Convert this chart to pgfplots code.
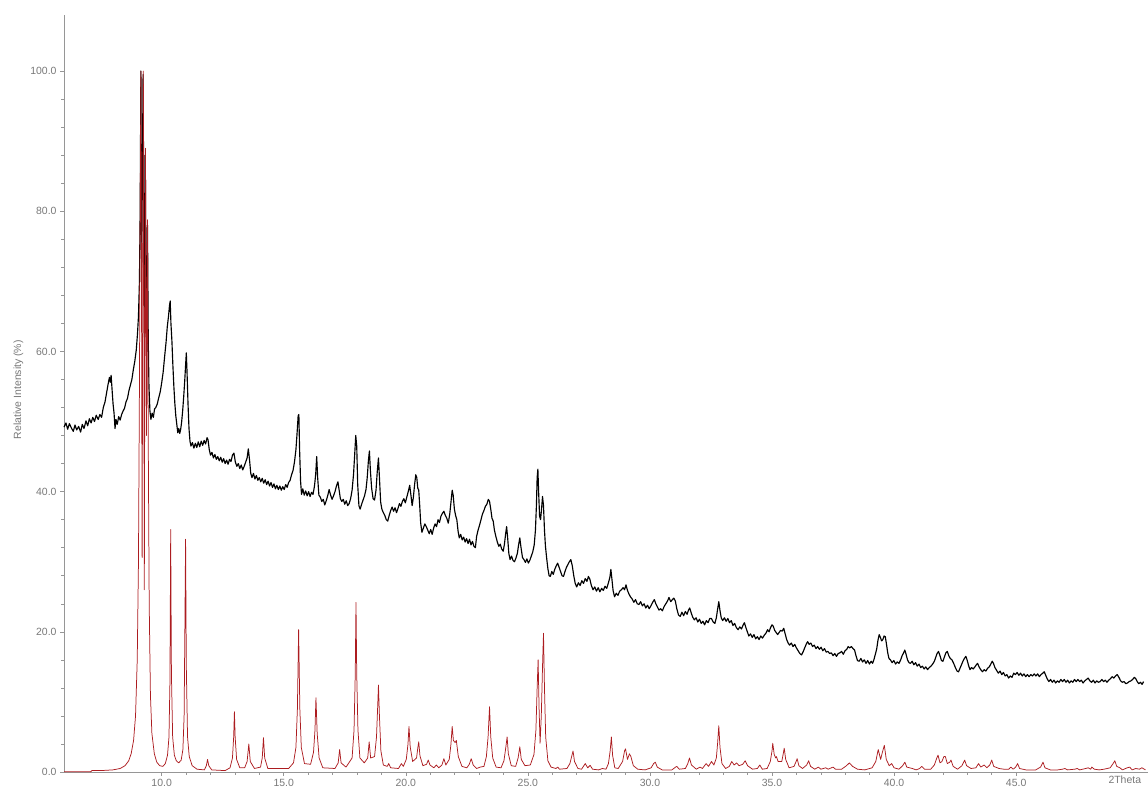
\documentclass[border=0pt]{standalone}
\usepackage{fontspec}
\setmainfont{Liberation Sans}
\usepackage{pgfplots}
\pgfplotsset{compat=1.18}
\definecolor{tickgray}{RGB}{120,120,120}
\definecolor{axgray}{RGB}{150,150,150}
\definecolor{calcred}{RGB}{172,28,32}
\begin{document}
\begin{tikzpicture}
\path[use as bounding box] (0,0) rectangle (1148bp,791bp);
\begin{axis}[
  at={(64bp,19bp)}, anchor=south west,
  width=1084bp, height=757bp, scale only axis,
  xmin=6, xmax=50.4, ymin=0, ymax=108,
  axis lines*=left,
  axis line style={axgray, line width=0.6pt},
  tick style={axgray, line width=0.5pt},
  tick align=outside,
  major tick length=4bp, minor tick length=3bp,
  xtick={10,15,...,45}, minor x tick num=4,
  ytick={0,20,...,100}, minor y tick num=4,
  extra x ticks={49.45}, extra x tick labels={2Theta},
  extra x tick style={major tick length=0pt},
  /pgf/number format/assume math mode=true,
  /pgf/number format/.cd, fixed, fixed zerofill, precision=1, /pgfplots/.cd,
  tick label style={font=\fontsize{10.5}{12}\selectfont, text=tickgray},
  ylabel={Relative Intensity (\%)},
  ylabel style={at={(axis description cs:-0.042,0.505)}, anchor=center, font=\fontsize{10.5}{12}\selectfont, text=tickgray},
  clip=false,
]
\addplot[black, line width=1.15pt, line join=round] table {
6.00 49.2
6.08 49.8
6.15 48.9
6.22 49.7
6.30 49.1
6.38 48.6
6.45 49.5
6.52 48.8
6.60 49.3
6.68 48.5
6.75 49.6
6.82 49.0
6.90 50.1
6.97 49.4
7.04 50.4
7.11 49.8
7.18 50.6
7.25 50.0
7.32 50.9
7.40 50.3
7.47 51.0
7.54 50.6
7.61 52.0
7.68 52.8
7.74 54.0
7.80 55.2
7.86 56.3
7.90 55.6
7.93 56.6
7.97 54.5
8.01 52.5
8.05 51.2
8.09 49.0
8.13 50.3
8.18 49.6
8.24 50.7
8.30 50.2
8.36 51.0
8.42 51.5
8.48 51.9
8.54 52.8
8.60 53.3
8.66 54.4
8.72 55.2
8.78 56.0
8.84 57.4
8.90 58.6
8.96 60.2
9.01 62.5
9.05 65.0
9.09 70.0
9.12 80.0
9.15 100.0
9.18 72.0
9.21 85.0
9.24 99.5
9.27 78.0
9.30 62.0
9.33 88.0
9.36 68.0
9.39 60.0
9.42 78.0
9.45 62.0
9.48 55.0
9.52 51.5
9.56 50.3
9.61 51.2
9.66 50.6
9.71 51.8
9.76 52.0
9.82 52.5
9.88 53.4
9.94 54.2
10.00 55.5
10.06 57.0
10.12 59.2
10.18 61.3
10.23 63.5
10.28 65.0
10.32 66.5
10.35 67.2
10.38 64.0
10.42 61.5
10.46 58.0
10.50 55.0
10.54 52.6
10.58 50.8
10.62 49.6
10.66 48.4
10.70 49.0
10.74 48.3
10.78 48.9
10.82 50.0
10.86 51.5
10.90 53.4
10.94 55.5
10.98 58.0
11.01 59.8
11.04 57.0
11.08 52.5
11.12 49.0
11.16 47.2
11.20 46.5
11.26 47.0
11.32 46.2
11.38 46.9
11.44 46.3
11.50 47.1
11.56 46.4
11.62 47.2
11.68 46.6
11.74 47.3
11.80 46.8
11.86 47.7
11.90 47.4
11.95 46.0
12.00 45.2
12.06 45.6
12.12 44.8
12.18 45.3
12.24 44.6
12.30 45.0
12.36 44.4
12.42 44.9
12.48 44.2
12.54 44.7
12.60 44.0
12.66 44.5
12.72 43.9
12.78 44.6
12.84 44.3
12.90 45.2
12.96 45.5
13.02 44.2
13.08 43.6
13.14 44.0
13.20 43.3
13.26 43.8
13.32 43.1
13.38 43.6
13.44 44.2
13.50 44.8
13.55 46.1
13.60 44.5
13.65 42.6
13.70 42.0
13.76 42.6
13.82 41.8
13.88 42.3
13.94 41.6
14.00 42.0
14.06 41.4
14.12 41.9
14.18 41.2
14.24 41.7
14.30 41.0
14.36 41.5
14.42 40.8
14.48 41.3
14.54 40.6
14.60 41.1
14.66 40.4
14.72 40.9
14.78 40.3
14.84 40.8
14.90 40.2
14.96 40.7
15.02 40.3
15.08 41.0
15.14 40.6
15.20 41.3
15.26 41.6
15.32 42.4
15.38 43.0
15.44 44.2
15.50 46.0
15.55 48.5
15.59 50.8
15.62 51.0
15.65 46.0
15.69 41.5
15.73 39.6
15.78 40.4
15.84 39.5
15.90 40.1
15.96 39.4
16.02 40.0
16.08 39.3
16.14 39.9
16.20 39.6
16.26 40.8
16.31 42.5
16.35 45.0
16.39 42.0
16.44 39.5
16.50 39.2
16.56 38.6
16.62 38.9
16.68 38.1
16.74 38.7
16.80 39.4
16.86 40.3
16.92 39.5
16.98 38.9
17.04 39.4
17.10 40.0
17.16 40.8
17.22 41.4
17.27 40.2
17.32 39.0
17.38 38.6
17.44 38.9
17.50 38.2
17.56 38.7
17.62 38.0
17.68 38.3
17.74 39.0
17.80 40.2
17.86 42.5
17.91 45.5
17.95 48.0
17.99 46.5
18.03 41.0
18.08 38.0
18.13 37.5
18.19 38.2
18.25 38.8
18.31 39.4
18.37 40.3
18.42 42.0
18.47 44.5
18.51 45.8
18.55 43.0
18.60 40.5
18.66 39.0
18.72 38.8
18.78 40.2
18.83 42.8
18.88 44.8
18.92 42.0
18.97 38.5
19.02 37.5
19.08 37.0
19.14 36.6
19.20 36.0
19.26 35.8
19.32 36.6
19.38 37.3
19.44 37.8
19.50 37.2
19.56 37.7
19.62 37.0
19.68 37.6
19.74 38.3
19.80 37.9
19.86 38.6
19.92 39.0
19.98 38.4
20.04 39.2
20.10 40.0
20.16 40.9
20.21 39.5
20.26 38.0
20.31 39.2
20.36 41.0
20.41 42.4
20.45 42.0
20.49 40.5
20.53 40.2
20.57 38.0
20.61 35.5
20.66 34.2
20.72 34.8
20.78 35.4
20.84 35.0
20.90 34.5
20.96 34.0
21.02 34.6
21.08 33.9
21.14 34.8
21.20 35.4
21.26 35.0
21.32 36.0
21.38 35.6
21.44 36.5
21.50 36.9
21.56 37.2
21.62 36.6
21.68 36.2
21.74 35.5
21.80 36.8
21.85 38.5
21.90 40.2
21.94 39.5
21.99 37.5
22.04 36.6
22.09 36.0
22.14 34.4
22.19 33.4
22.25 33.9
22.31 33.1
22.37 33.5
22.43 32.8
22.49 33.3
22.55 32.6
22.61 33.2
22.67 32.4
22.73 32.9
22.79 32.2
22.85 32.0
22.90 33.6
22.96 34.5
23.02 35.2
23.08 36.0
23.14 36.8
23.20 37.3
23.26 37.9
23.32 38.2
23.38 38.9
23.43 38.6
23.48 37.5
23.53 36.2
23.58 35.8
23.63 34.5
23.69 33.6
23.75 32.8
23.81 32.2
23.87 32.5
23.93 31.8
23.99 31.5
24.04 32.5
24.09 34.0
24.13 35.0
24.17 33.5
24.22 31.2
24.27 30.3
24.33 30.8
24.39 30.2
24.45 30.0
24.51 30.5
24.57 31.2
24.62 32.4
24.67 33.4
24.72 32.0
24.78 30.6
24.84 30.3
24.90 29.9
24.96 30.4
25.02 29.8
25.08 30.2
25.14 30.8
25.20 31.4
25.26 32.4
25.31 34.5
25.35 38.0
25.38 42.0
25.41 43.2
25.44 40.0
25.48 36.5
25.52 36.0
25.56 37.5
25.60 39.3
25.64 38.0
25.68 34.5
25.72 32.2
25.77 30.5
25.82 29.0
25.87 28.0
25.92 27.9
25.98 28.6
26.04 28.2
26.10 28.9
26.16 29.4
26.22 29.8
26.28 29.2
26.34 28.6
26.40 28.0
26.46 27.9
26.52 28.6
26.58 29.2
26.64 29.6
26.70 30.0
26.76 30.3
26.82 29.4
26.88 28.0
26.94 26.9
27.00 26.4
27.07 27.0
27.14 26.6
27.21 27.3
27.28 26.9
27.35 27.6
27.42 27.2
27.48 27.9
27.54 27.5
27.60 26.6
27.67 26.0
27.74 26.4
27.81 25.8
27.88 26.3
27.95 25.7
28.02 26.2
28.09 25.9
28.16 26.5
28.23 26.2
28.30 27.0
28.36 27.8
28.40 28.9
28.44 27.6
28.49 25.9
28.55 25.0
28.62 25.5
28.69 25.2
28.76 25.8
28.83 26.0
28.90 26.3
28.96 26.0
29.02 26.7
29.08 25.9
29.14 25.4
29.20 25.0
29.27 24.7
29.34 24.2
29.41 24.6
29.48 24.0
29.55 23.9
29.62 24.3
29.69 23.7
29.76 24.0
29.83 23.4
29.90 23.8
29.97 23.3
30.04 23.7
30.11 24.2
30.18 24.6
30.24 24.0
30.30 23.6
30.37 23.1
30.44 23.3
30.51 23.0
30.58 23.6
30.65 24.0
30.72 24.4
30.78 24.9
30.85 24.3
30.92 24.6
30.98 24.8
31.04 24.4
31.10 23.3
31.17 22.4
31.24 22.2
31.31 22.8
31.38 22.3
31.45 22.9
31.52 22.5
31.58 23.1
31.63 23.4
31.69 22.7
31.75 22.1
31.82 21.7
31.89 22.0
31.96 21.4
32.03 21.8
32.10 21.2
32.17 21.5
32.24 21.0
32.31 21.6
32.38 21.3
32.45 21.9
32.52 21.9
32.59 21.4
32.66 21.2
32.72 22.0
32.77 23.2
32.82 24.3
32.87 23.0
32.92 22.0
32.98 21.6
33.05 22.0
33.12 21.5
33.19 21.9
33.26 21.3
33.33 21.6
33.40 20.9
33.47 21.2
33.54 20.6
33.61 20.3
33.68 20.7
33.75 20.4
33.82 21.0
33.87 21.3
33.93 20.6
33.99 20.0
34.05 19.4
34.12 19.7
34.19 19.2
34.26 19.6
34.33 19.0
34.40 19.3
34.47 18.9
34.54 19.4
34.61 19.1
34.68 19.5
34.75 19.8
34.82 20.3
34.88 20.0
34.94 20.6
35.00 21.0
35.05 20.8
35.11 20.2
35.17 19.9
35.23 19.6
35.29 19.9
35.35 20.2
35.42 20.1
35.48 20.5
35.54 19.7
35.60 18.9
35.66 18.4
35.72 18.1
35.79 18.4
35.86 17.9
35.93 18.2
36.00 17.7
36.07 17.3
36.14 16.9
36.21 16.7
36.28 17.2
36.35 17.8
36.41 18.3
36.46 18.6
36.52 18.2
36.59 18.4
36.66 17.9
36.73 18.1
36.80 17.6
36.87 17.9
36.94 17.5
37.01 17.8
37.08 17.3
37.15 17.6
37.22 17.1
37.29 17.2
37.36 16.9
37.43 17.0
37.50 16.6
37.57 16.9
37.64 16.5
37.71 16.9
37.78 17.0
37.85 17.2
37.92 16.8
37.99 17.3
38.06 17.5
38.12 17.9
38.18 17.7
38.25 17.9
38.32 17.6
38.38 17.4
38.44 16.6
38.50 15.9
38.57 15.8
38.64 16.2
38.71 15.7
38.78 16.0
38.85 15.5
38.92 15.9
38.99 15.4
39.06 15.8
39.12 15.5
39.18 16.1
39.24 16.9
39.29 17.6
39.34 18.8
39.39 19.6
39.44 19.2
39.49 18.7
39.54 18.9
39.59 19.4
39.64 19.3
39.69 18.2
39.74 17.0
39.79 16.2
39.85 16.0
39.92 15.6
39.99 15.9
40.06 15.4
40.13 15.7
40.20 15.5
40.27 16.0
40.33 16.6
40.39 17.0
40.44 17.4
40.49 16.8
40.55 16.0
40.61 15.6
40.67 15.5
40.74 15.8
40.81 15.3
40.88 15.6
40.95 15.1
41.02 15.4
41.09 14.9
41.16 15.1
41.23 14.7
41.30 15.0
41.37 14.6
41.44 14.9
41.51 15.1
41.58 15.4
41.65 15.8
41.71 16.4
41.76 16.9
41.82 17.2
41.88 16.6
41.94 15.9
42.00 15.8
42.06 16.4
42.12 17.0
42.18 17.2
42.24 16.6
42.30 16.2
42.37 16.0
42.44 15.5
42.51 14.9
42.58 14.4
42.64 14.3
42.70 14.8
42.76 15.3
42.82 15.8
42.88 16.2
42.94 16.5
42.99 16.0
43.05 15.2
43.11 14.6
43.17 14.9
43.24 14.7
43.31 15.0
43.37 15.3
43.42 15.5
43.48 15.0
43.55 14.6
43.62 14.3
43.69 14.6
43.76 14.4
43.83 14.8
43.90 15.0
43.96 15.4
44.02 15.8
44.07 15.5
44.13 14.9
44.20 14.5
44.27 14.1
44.34 14.4
44.41 13.9
44.48 14.2
44.55 13.7
44.62 13.9
44.69 13.4
44.76 13.7
44.83 13.5
44.90 14.1
44.97 13.9
45.04 14.2
45.11 13.8
45.18 14.1
45.25 13.7
45.32 14.0
45.39 13.6
45.46 13.9
45.53 13.6
45.60 13.9
45.67 13.7
45.74 14.0
45.81 13.7
45.88 14.0
45.95 13.6
46.02 13.9
46.09 14.1
46.15 14.3
46.21 13.8
46.27 13.3
46.34 12.9
46.41 13.2
46.48 12.8
46.55 13.1
46.62 12.7
46.69 13.0
46.76 12.8
46.83 13.2
46.90 12.9
46.97 13.2
47.04 12.8
47.11 13.1
47.18 12.7
47.25 13.0
47.32 12.8
47.39 13.2
47.46 12.9
47.53 13.2
47.60 12.9
47.67 13.1
47.74 12.7
47.81 13.0
47.88 13.2
47.95 13.4
48.02 13.0
48.09 12.8
48.16 13.1
48.23 12.7
48.30 13.0
48.37 12.8
48.44 12.9
48.51 13.2
48.58 12.9
48.65 13.1
48.72 12.8
48.79 13.1
48.86 13.3
48.93 13.6
49.00 13.4
49.07 13.7
49.14 13.9
49.21 13.5
49.28 13.0
49.35 12.8
49.42 12.9
49.49 12.6
49.56 12.7
49.63 12.9
49.70 13.0
49.77 13.2
49.84 13.5
49.90 13.3
49.96 12.9
50.02 12.6
50.09 12.8
50.16 12.5
50.22 12.9
};
\addplot[calcred, line width=0.75pt, line join=round] table {
6.00 0.05
7.10 0.05
7.14 0.2
7.60 0.22
8.00 0.3
8.30 0.5
8.50 0.9
8.65 1.6
8.75 2.6
8.85 4.5
8.93 8.0
9.00 16
9.05 30
9.09 55
9.12 80
9.15 100
9.18 62
9.20 30.6
9.22 62
9.25 100
9.27 70
9.29 26
9.31 60
9.34 89
9.36 62
9.38 48
9.40 66
9.42 78.8
9.45 48
9.49 24
9.54 11
9.60 5.5
9.70 2.6
9.80 1.4
9.92 0.9
10.05 0.8
10.15 1.2
10.24 2.4
10.30 5.0
10.34 13
10.37 34.6
10.40 14
10.45 5.0
10.52 2.4
10.60 1.6
10.70 1.3
10.80 1.7
10.87 3.2
10.92 8.0
10.95 20
10.98 33.2
11.01 15
11.06 5.0
11.13 2.2
11.25 0.9
11.45 0.4
11.75 0.3
11.83 0.9
11.88 1.8
11.93 0.9
12.05 0.3
12.60 0.2
12.80 0.6
12.90 2.0
12.95 5.0
12.98 8.6
13.01 5.0
13.07 1.8
13.20 0.6
13.40 0.6
13.50 1.5
13.57 4.0
13.63 1.5
13.80 0.5
14.05 0.7
14.12 2.0
14.17 4.9
14.22 2.0
14.35 0.5
15.20 0.5
15.40 1.3
15.50 3.5
15.56 9.0
15.61 20.3
15.66 9.0
15.72 3.5
15.85 1.2
16.10 1.1
16.22 2.8
16.28 6.0
16.32 10.6
16.37 5.5
16.45 2.0
16.60 0.6
17.10 0.5
17.23 1.3
17.29 3.2
17.35 1.3
17.55 0.7
17.80 2.0
17.88 6.0
17.93 14.0
17.96 24.2
17.99 14.0
18.04 6.0
18.12 2.0
18.30 1.3
18.44 2.0
18.50 4.3
18.56 2.0
18.72 2.2
18.80 5.0
18.85 9.5
18.88 12.4
18.92 8.0
18.98 3.0
19.08 1.0
19.24 0.8
19.30 1.2
19.38 0.6
19.70 0.5
19.82 1.2
19.90 0.8
20.02 1.8
20.09 4.0
20.13 6.5
20.18 3.6
20.28 1.5
20.44 2.0
20.49 3.4
20.53 4.3
20.58 2.3
20.70 0.9
20.85 1.1
20.92 1.7
20.99 1.0
21.15 0.6
21.25 1.0
21.35 0.6
21.48 1.0
21.56 1.9
21.64 1.0
21.78 1.8
21.85 4.0
21.90 6.5
21.95 4.5
22.02 4.2
22.07 4.5
22.15 2.2
22.30 0.8
22.50 0.6
22.60 1.1
22.68 1.9
22.76 1.0
22.90 0.5
23.05 0.7
23.20 0.8
23.30 2.2
23.37 5.0
23.43 9.3
23.48 5.0
23.56 2.0
23.70 0.7
23.90 0.6
24.02 1.6
24.10 3.6
24.15 5.0
24.20 2.6
24.32 0.9
24.50 0.8
24.60 2.0
24.67 3.6
24.73 1.8
24.88 0.9
25.10 1.0
25.25 2.5
25.33 6.0
25.38 12.0
25.42 16.0
25.46 9.0
25.50 4.1
25.55 8.0
25.60 15.0
25.64 19.8
25.68 12.0
25.73 5.0
25.82 1.6
25.95 0.7
26.15 0.5
26.22 0.7
26.30 0.4
26.60 0.5
26.72 1.2
26.80 2.3
26.85 3.0
26.91 1.5
27.05 0.5
27.20 0.4
27.35 1.2
27.45 0.6
27.55 0.95
27.65 0.4
27.90 0.3
28.05 0.5
28.20 0.4
28.30 1.2
28.37 3.0
28.42 5.0
28.47 2.4
28.56 0.6
28.70 0.5
28.88 1.5
28.96 3.0
29.00 3.3
29.08 1.8
29.16 2.6
29.22 2.2
29.32 0.9
29.50 0.4
29.80 0.3
30.05 0.6
30.15 1.2
30.22 1.4
30.30 0.7
30.50 0.3
30.90 0.3
31.05 0.7
31.10 0.8
31.20 0.4
31.45 0.5
31.55 1.2
31.62 2.0
31.70 1.0
31.90 0.4
32.05 0.7
32.15 0.5
32.30 1.2
32.40 0.8
32.52 1.5
32.62 1.0
32.72 2.0
32.77 4.0
32.82 6.6
32.87 3.5
32.95 1.2
33.10 0.5
33.25 0.8
33.35 1.5
33.45 1.0
33.55 1.3
33.65 0.9
33.80 1.1
33.90 1.6
34.00 0.9
34.20 0.4
34.40 0.5
34.50 1.0
34.60 0.4
34.80 0.5
34.93 1.5
35.00 3.0
35.03 4.1
35.09 2.5
35.15 2.0
35.18 2.2
35.25 1.5
35.40 1.5
35.46 2.6
35.50 3.4
35.56 1.8
35.70 0.6
35.90 0.8
36.00 1.6
36.03 1.9
36.10 0.9
36.25 0.5
36.42 1.0
36.50 1.6
36.58 0.8
36.75 0.4
36.90 0.7
37.00 0.4
37.20 0.6
37.30 0.4
37.50 0.7
37.60 0.4
37.85 0.4
38.05 0.9
38.17 1.3
38.30 0.8
38.50 0.4
38.80 0.3
39.10 0.6
39.25 1.5
39.35 3.2
39.45 1.8
39.52 2.8
39.60 3.8
39.68 1.8
39.80 0.9
39.90 1.2
40.00 0.6
40.20 0.4
40.35 0.9
40.44 1.4
40.52 0.7
40.75 0.5
40.90 0.3
41.05 0.5
41.13 0.8
41.25 0.4
41.50 0.4
41.65 1.0
41.75 2.0
41.80 2.4
41.88 1.3
41.96 1.5
42.04 2.2
42.10 2.2
42.18 1.2
42.28 1.4
42.33 1.7
42.42 0.8
42.60 0.4
42.78 0.9
42.89 1.7
42.97 0.9
43.15 0.5
43.35 0.6
43.46 1.2
43.55 0.7
43.69 1.0
43.80 0.6
43.92 1.0
44.00 1.7
44.08 0.8
44.30 0.5
44.50 0.4
44.70 0.4
44.78 0.7
44.88 0.4
44.98 0.7
45.06 1.2
45.14 0.5
45.40 0.3
45.80 0.3
46.00 0.7
46.10 1.4
46.18 0.6
46.40 0.3
46.70 0.3
46.90 0.4
47.00 0.5
47.10 0.3
47.40 0.4
47.50 0.5
47.60 0.3
47.85 0.5
47.95 0.6
48.05 0.4
48.10 0.7
48.20 0.4
48.40 0.3
48.60 0.4
48.85 0.6
48.97 1.2
49.04 1.6
49.12 0.8
49.25 0.6
49.35 0.3
49.55 0.6
49.65 0.7
49.75 0.3
49.90 0.5
50.05 0.4
50.15 0.6
50.30 0.3
};
\end{axis}
\end{tikzpicture}
\end{document}
